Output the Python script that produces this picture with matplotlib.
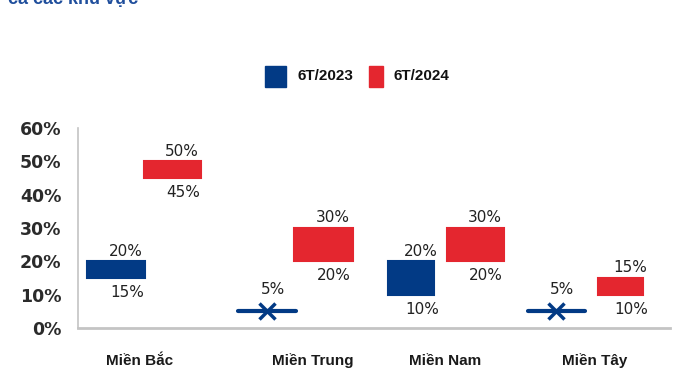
import matplotlib.pyplot as plt
from matplotlib.patches import Rectangle

plt.rcParams['font.family'] = ['Liberation Sans', 'DejaVu Sans']

# price change ranges (%) by region, first half 2023 vs first half 2024
regions = ["Miền Bắc", "Miền Trung", "Miền Nam", "Miền Tây"]
low_2023 = [15, 5, 10, 5]
high_2023 = [20, 5, 20, 5]
low_2024 = [45, 20, 20, 10]
high_2024 = [50, 30, 30, 15]
series_names = ["6T/2023", "6T/2024"]
yticks = [0, 10, 20, 30, 40, 50, 60]

BLUE = "#023a85"
RED = "#e4262f"
W, H = 696, 372

# bar centres in a pixel-like x scale
x_2023 = [116, 267, 411, 556]
x_2024 = [172, 323, 475, 620]
widths_2023 = [57, 58, 46, 57]
widths_2024 = [57, 59, 57, 45]
label_x = [140, 313, 445, 595]

fig = plt.figure(figsize=(W / 100, H / 100), dpi=100)
ax = fig.add_axes([78 / W, (H - 328) / H, (670 - 78) / W, (328 - 128) / H])
ax.set_xlim(78, 670)
ax.set_ylim(0, 60)

num_font = dict(family='DejaVu Sans', fontsize=11, color='#222222')


def draw_range(x, w, lo, hi, color):
    if hi > lo:
        ax.bar(x, hi - lo, width=w, bottom=lo, color=color, edgecolor=color,
               linewidth=1.5, zorder=3)
        ax.annotate(f"{hi}%", (x + 10, hi), xytext=(0, 2), textcoords='offset points',
                    ha='center', va='bottom', **num_font)
        ax.annotate(f"{lo}%", (x + 11, lo), xytext=(0, -5), textcoords='offset points',
                    ha='center', va='top', **num_font)
    else:
        # no spread: flat line with a cross
        ax.plot([x - w / 2, x + w / 2], [lo, lo], color=color, lw=3,
                solid_capstyle='round', zorder=3)
        ax.plot([x], [lo], marker='x', color=color, ms=11, mew=2.5, zorder=4)
        ax.annotate(f"{hi}%", (x + 6, hi), xytext=(0, 10), textcoords='offset points',
                    ha='center', va='bottom', **num_font)


for i in range(len(regions)):
    draw_range(x_2023[i], widths_2023[i], low_2023[i], high_2023[i], BLUE)
    draw_range(x_2024[i], widths_2024[i], low_2024[i], high_2024[i], RED)

ax.set_yticks(yticks)
ax.set_yticklabels([f"{v}%" for v in yticks], family='DejaVu Sans', fontsize=12.5,
                   fontweight='bold', color='#2b2b2b')
ax.tick_params(axis='y', length=0, pad=12)
ax.set_xticks([])

# region names on a common baseline
for lx, name in zip(label_x, regions):
    fig.text(lx / W, (H - 365) / H, name, fontsize=11, fontweight='bold',
             color='#1a1a1a', ha='center', va='baseline')

for s in ['top', 'right']:
    ax.spines[s].set_visible(False)
ax.spines['left'].set_color('#c4c4c4')
ax.spines['left'].set_linewidth(1.2)
ax.spines['bottom'].set_color('#c4c4c4')
ax.spines['bottom'].set_linewidth(2)

# legend drawn by hand in figure pixels
fig.patches.append(Rectangle((265 / W, (H - 87) / H), 21 / W, 21 / H,
                             transform=fig.transFigure, color=BLUE))
fig.patches.append(Rectangle((369 / W, (H - 87) / H), 14 / W, 21 / H,
                             transform=fig.transFigure, color=RED))
fig.text(298 / W, (H - 76) / H, series_names[0], fontsize=11, fontweight='bold',
         va='center', ha='left', color='#111111')
fig.text(393 / W, (H - 76) / H, series_names[1], fontsize=11, fontweight='bold',
         va='center', ha='left', color='#111111')

# title line cut off at the top edge
fig.text(8 / W, 1 - 4 / H, "cả các khu vực", fontsize=13, fontweight='bold',
         color='#1f4e9c', va='baseline', ha='left')

fig.savefig("out.png", dpi=100)
